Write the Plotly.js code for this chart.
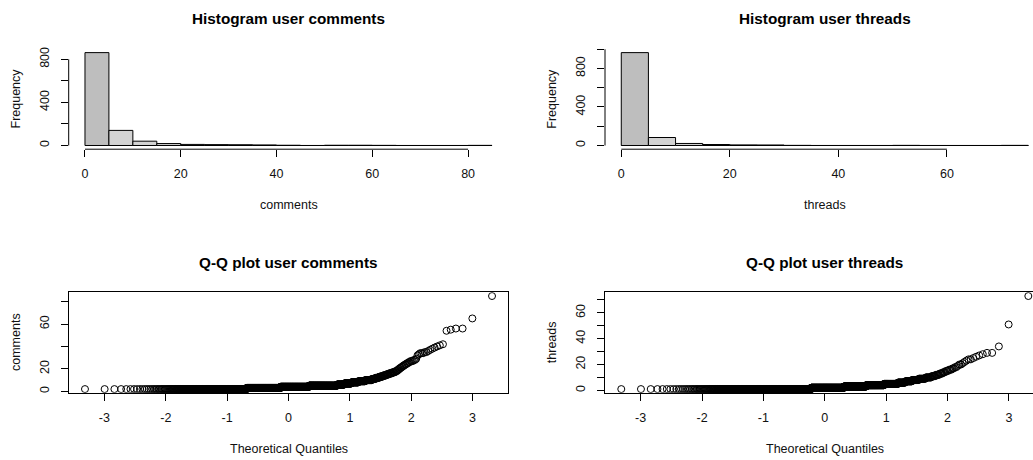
<!DOCTYPE html>
<html>
<head>
<meta charset="utf-8">
<script src="https://cdn.plot.ly/plotly-3.0.1.min.js"></script>
<style>
  html, body { margin: 0; padding: 0; overflow: hidden; background: #fff; }
  #chart { width: 1050px; height: 460px; }
</style>
</head>
<body>
<div id="chart"></div>
<script>
// Per-user activity: each distinct count and how many users have it
const commentValues = [2, 3, 4, 5, 6, 7, 8, 9, 10, 11, 12, 13, 14, 15, 16, 17, 18, 19, 20,
  21, 22, 23, 24, 25, 26, 27, 28, 29, 32, 33, 34, 35, 36, 37, 38, 39, 40, 41, 42,
  54, 55, 56, 65, 85];
const commentCounts = [272, 220, 200, 170, 36, 32, 28, 24, 20, 10, 9, 8, 7, 6, 6, 5, 3, 2, 2,
  2, 2, 2, 2, 2, 2, 3, 2, 1, 1, 1, 3, 2, 1, 1, 1, 1, 1, 1, 1,
  1, 1, 2, 1, 1];

const threadValues = [1, 2, 3, 4, 5, 6, 7, 8, 9, 10, 11, 12, 13, 14, 15, 16, 17, 18, 19, 20,
  21, 22, 23, 24, 25, 26, 27, 28, 29, 34, 51, 73];
const threadCounts = [450, 230, 140, 90, 55, 24, 19, 16, 14, 10, 6, 5, 4, 3, 3, 3, 2, 2, 1, 2,
  1, 1, 1, 2, 1, 1, 1, 1, 2, 1, 1, 1];

// Axis ticks and the labels printed at them
const commentHistXTicks = [0, 20, 40, 60, 80];
const commentFreqTicks = [0, 200, 400, 600, 800];
const commentFreqLabels = ['0', '', '400', '', '800'];
const threadHistXTicks = [0, 20, 40, 60];
const threadFreqTicks = [0, 200, 400, 600, 800, 1000];
const threadFreqLabels = ['0', '', '400', '', '800', ''];
const quantileTicks = [-3, -2, -1, 0, 1, 2, 3];
const commentQQTicks = [0, 20, 40, 60, 80];
const commentQQLabels = ['0', '20', '', '60', ''];
const threadQQTicks = [0, 10, 20, 30, 40, 50, 60, 70];
const threadQQLabels = ['0', '', '20', '', '40', '', '60', ''];
const binWidth = 5;

// ---------- helpers ----------
function expand(values, counts) {
  const out = [];
  values.forEach((v, i) => { for (let k = 0; k < counts[i]; k++) out.push(v); });
  return out.sort((a, b) => a - b);
}

// right-closed bins (a, b], first bin also takes its lower edge
function histogram(sample, width) {
  const top = Math.ceil(Math.max(...sample) / width) * width;
  const breaks = [];
  for (let b = 0; b <= top + 1e-9; b += width) breaks.push(b);
  const counts = new Array(breaks.length - 1).fill(0);
  sample.forEach(v => {
    let i = Math.ceil(v / width) - 1;
    if (i < 0) i = 0;
    counts[i]++;
  });
  const mids = counts.map((_, i) => (breaks[i] + breaks[i + 1]) / 2);
  return { breaks, counts, mids };
}

// inverse standard normal CDF (Acklam)
function qnorm(p) {
  const a = [-3.969683028665376e+01, 2.209460984245205e+02, -2.759285104469687e+02, 1.383577518672690e+02, -3.066479806614716e+01, 2.506628277459239e+00];
  const b = [-5.447609879822406e+01, 1.615858368580409e+02, -1.556989798598866e+02, 6.680131188771972e+01, -1.328068155288572e+01];
  const c = [-7.784894002430293e-03, -3.223964580411365e-01, -2.400758277161838e+00, -2.549671010506088e+00, 4.374664141464968e+00, 2.938163982698783e+00];
  const d = [7.784695709041462e-03, 3.224671290700398e-01, 2.445134137142996e+00, 3.754408661907416e+00];
  const pl = 0.02425, ph = 1 - pl;
  let q, r;
  if (p < pl) {
    q = Math.sqrt(-2 * Math.log(p));
    return (((((c[0]*q+c[1])*q+c[2])*q+c[3])*q+c[4])*q+c[5]) / ((((d[0]*q+d[1])*q+d[2])*q+d[3])*q+1);
  }
  if (p <= ph) {
    q = p - 0.5; r = q * q;
    return (((((a[0]*r+a[1])*r+a[2])*r+a[3])*r+a[4])*r+a[5])*q / (((((b[0]*r+b[1])*r+b[2])*r+b[3])*r+b[4])*r+1);
  }
  q = Math.sqrt(-2 * Math.log(1 - p));
  return -(((((c[0]*q+c[1])*q+c[2])*q+c[3])*q+c[4])*q+c[5]) / ((((d[0]*q+d[1])*q+d[2])*q+d[3])*q+1);
}

function theoretical(n) {
  const a = n <= 10 ? 3 / 8 : 0.5;
  return Array.from({ length: n }, (_, i) => qnorm((i + 1 - a) / (n + 1 - 2 * a)));
}

// 4% padding on both ends, like base graphics
function pad(lo, hi) {
  const s = hi - lo;
  return [lo - 0.04 * s, hi + 0.04 * s];
}

// ---------- data ----------
const comments = expand(commentValues, commentCounts);
const threads = expand(threadValues, threadCounts);
const commentHist = histogram(comments, binWidth);
const threadHist = histogram(threads, binWidth);
const commentQ = theoretical(comments.length);
const threadQ = theoretical(threads.length);

// ---------- geometry (pixels) ----------
const W = 1050, H = 460;
const px = (a, b) => [a / W, b / W];
const py = (top, bottom) => [(H - bottom) / H, (H - top) / H];
const leftCol = px(68.7, 508.3);
const rightCol = px(605, 1044.6);
const topRow = py(48.9, 149.2);
const bottomRow = py(292.3, 392.8);

const FONT = 'Liberation Sans, Arial, Helvetica, sans-serif';
const tickFont = { family: FONT, size: 12.5, color: '#111' };

function barColors(n) {
  return Array.from({ length: n }, (_, i) => (i === 0 ? '#bebebe' : '#d3d3d3'));
}

const histBar = (h, xa, ya) => ({
  type: 'bar', x: h.mids, y: h.counts, width: binWidth,
  xaxis: xa, yaxis: ya,
  marker: { color: barColors(h.counts.length), line: { color: '#000', width: 1 } },
  hoverinfo: 'x+y'
});

const qqPoints = (xq, ys, xa, ya) => ({
  type: 'scatter', mode: 'markers', x: xq, y: ys, xaxis: xa, yaxis: ya,
  marker: { symbol: 'circle-open', size: 7, color: '#000', line: { width: 1, color: '#000' } },
  hoverinfo: 'x+y'
});

const data = [
  histBar(commentHist, 'x', 'y'),
  histBar(threadHist, 'x2', 'y2'),
  qqPoints(commentQ, comments, 'x3', 'y3'),
  qqPoints(threadQ, threads, 'x4', 'y4')
];

const baseAxis = {
  showgrid: false, zeroline: false, ticks: 'outside', ticklen: 7, tickwidth: 1,
  tickcolor: '#000', tickfont: tickFont, tickmode: 'array', fixedrange: true,
  automargin: false
};
const xAx = (o) => Object.assign({}, baseAxis, { ticklabelstandoff: 6 }, o);
const yAx = (o) => Object.assign({}, baseAxis, { tickangle: -90, ticklabelstandoff: 7 }, o);
const box = { showline: true, mirror: true, linecolor: '#000', linewidth: 1 };

const hcMax = Math.max(...commentHist.counts);
const htMax = Math.max(...threadHist.counts);

const layout = {
  width: W, height: H,
  margin: { l: 0, r: 0, t: 0, b: 0 },
  paper_bgcolor: '#fff', plot_bgcolor: '#fff',
  showlegend: false, bargap: 0,
  xaxis: xAx({ domain: leftCol, anchor: 'y',
    range: pad(commentHist.breaks[0], commentHist.breaks[commentHist.breaks.length - 1]),
    tickvals: commentHistXTicks, ticktext: commentHistXTicks.map(String) }),
  yaxis: yAx({ domain: topRow, anchor: 'x', range: pad(0, hcMax),
    tickvals: commentFreqTicks, ticktext: commentFreqLabels }),
  xaxis2: xAx({ domain: rightCol, anchor: 'y2',
    range: pad(threadHist.breaks[0], threadHist.breaks[threadHist.breaks.length - 1]),
    tickvals: threadHistXTicks, ticktext: threadHistXTicks.map(String) }),
  yaxis2: yAx({ domain: topRow, anchor: 'x2', range: pad(0, htMax),
    tickvals: threadFreqTicks, ticktext: threadFreqLabels }),
  xaxis3: xAx(Object.assign({ domain: leftCol, anchor: 'y3',
    range: pad(commentQ[0], commentQ[commentQ.length - 1]),
    tickvals: quantileTicks, ticktext: quantileTicks.map(String) }, box)),
  yaxis3: yAx(Object.assign({ domain: bottomRow, anchor: 'x3',
    range: pad(comments[0], comments[comments.length - 1]),
    tickvals: commentQQTicks, ticktext: commentQQLabels }, box)),
  xaxis4: xAx(Object.assign({ domain: rightCol, anchor: 'y4',
    range: pad(threadQ[0], threadQ[threadQ.length - 1]),
    tickvals: quantileTicks, ticktext: quantileTicks.map(String) }, box)),
  yaxis4: yAx(Object.assign({ domain: bottomRow, anchor: 'x4',
    range: pad(threads[0], threads[threads.length - 1]),
    tickvals: threadQQTicks, ticktext: threadQQLabels }, box)),
  shapes: [],
  annotations: []
};

// histogram axes run only between their first and last ticks
const line = { color: '#000', width: 1 };
function histAxisLines(xa, ya, xt, yt, h) {
  layout.shapes.push(
    { type: 'line', xref: xa, yref: ya + ' domain', x0: xt[0], x1: xt[xt.length - 1], y0: 0, y1: 0, line },
    { type: 'line', xref: xa + ' domain', yref: ya, x0: 0, x1: 0, y0: yt[0], y1: yt[yt.length - 1], line },
    // empty bins still show their outline along zero
    { type: 'line', xref: xa, yref: ya, x0: h.breaks[0], x1: h.breaks[h.breaks.length - 1], y0: 0, y1: 0, line, layer: 'below' }
  );
}
histAxisLines('x', 'y', commentHistXTicks, commentFreqTicks, commentHist);
histAxisLines('x2', 'y2', threadHistXTicks, threadFreqTicks, threadHist);

// titles
const cx = (d) => (d[0] + d[1]) / 2;
const yPaper = (pix) => (H - pix) / H;
function label(text, x, y, opts) {
  layout.annotations.push(Object.assign({
    text, x, y: yPaper(y), xref: 'paper', yref: 'paper', showarrow: false,
    xanchor: 'center', yanchor: 'middle',
    font: { family: FONT, size: 12.5, color: '#111' }
  }, opts || {}));
}
const titleFont = { family: FONT, size: 15.3, color: '#000' };
label('<b>Histogram user comments</b>', cx(leftCol), 18.3, { font: titleFont });
label('<b>Histogram user threads</b>', cx(rightCol), 18.3, { font: titleFont });
label('<b>Q-Q plot user comments</b>', cx(leftCol), 262.7, { font: titleFont });
label('<b>Q-Q plot user threads</b>', cx(rightCol), 262.7, { font: titleFont });

label('comments', cx(leftCol), 205);
label('threads', cx(rightCol), 205);
label('Theoretical Quantiles', cx(leftCol), 449.3);
label('Theoretical Quantiles', cx(rightCol), 449.3);

label('Frequency', 15.5 / W, 99, { textangle: -90 });
label('Frequency', 551.7 / W, 99, { textangle: -90 });
label('comments', 15.5 / W, 342.5, { textangle: -90 });
label('threads', 551.7 / W, 342.5, { textangle: -90 });

Plotly.newPlot('chart', data, layout, { staticPlot: true, displayModeBar: false });
</script>
</body>
</html>
